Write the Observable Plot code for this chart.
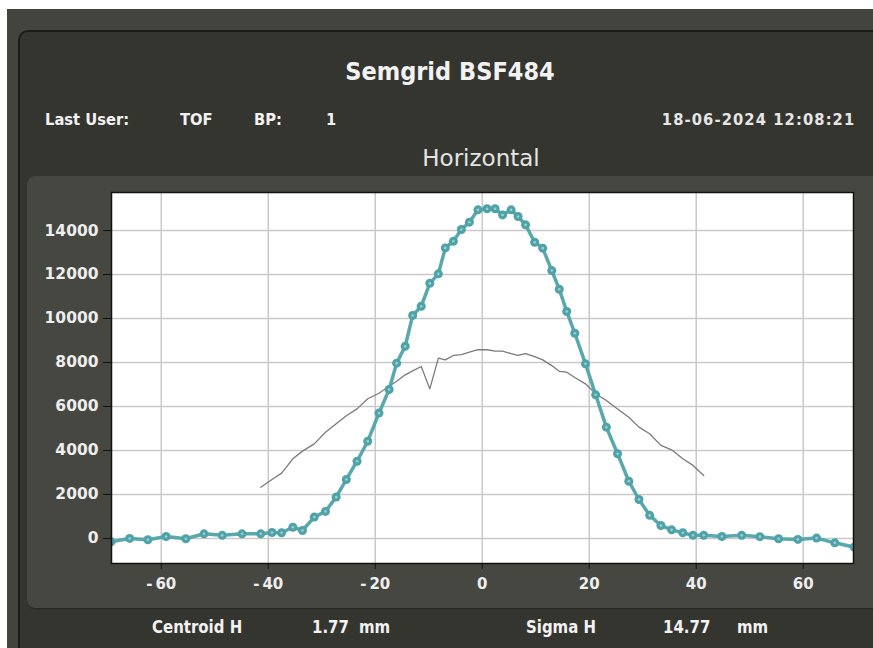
<!DOCTYPE html>
<html>
<head>
<meta charset="utf-8">
<script src="https://cdn.jsdelivr.net/npm/d3@7"></script>
<script src="https://cdn.jsdelivr.net/npm/@observablehq/plot@0.6"></script>
<style>
  html, body { margin: 0; padding: 0; background: #ffffff; width: 873px; height: 648px; overflow: hidden; }
  .outer { position: absolute; left: 7px; top: 9px; width: 866px; height: 639px; background: #43443e; }
  .panel { position: absolute; left: 18px; top: 30px; width: 870px; height: 640px; background: #353530;
           border: 2px solid #1b1b19; border-radius: 10px; box-sizing: border-box; }
  .chartpanel { position: absolute; left: 27px; top: 176px; width: 860px; height: 432px; background: #474742;
                border-radius: 8px; box-shadow: 0 1px 1px #262623; }
  .t { position: absolute; color: #f2f2f2; font-family: "DejaVu Sans", sans-serif;
       white-space: nowrap; line-height: 1; transform-origin: left center; }
  .b { font-weight: bold; }
  .h { font-size: 16px; top: 112px; transform: scaleX(0.92); }
  .f { font-size: 17px; top: 619px; transform: scaleX(0.88); }
  #chart { position: absolute; left: 27px; top: 176px; }
</style>
</head>
<body>
<div class="outer"></div>
<div class="panel"></div>
<div class="chartpanel"></div>

<div class="t b" style="left:0; width:900px; text-align:center; top:59px; font-size:25px; transform: scaleX(0.9); transform-origin: 450px 50%;">Semgrid BSF484</div>
<div class="t b h" style="left:45px;">Last User:</div>
<div class="t b h" style="left:180px;">TOF</div>
<div class="t b h" style="left:254px;">BP:</div>
<div class="t b h" style="left:326px;">1</div>
<div class="t b h" style="right:18px; letter-spacing:1.2px; color:#e6e6e6; transform-origin: right center;">18-06-2024 12:08:21</div>
<div class="t" style="left:0; width:962px; text-align:center; top:147px; font-size:23px; color:#e4e4e4;">Horizontal</div>

<div id="chart"></div>

<div class="t b f" style="left:152px;">Centroid H</div>
<div class="t b f" style="left:312px;">1.77</div>
<div class="t b f" style="left:359px;">mm</div>
<div class="t b f" style="left:526px;">Sigma H</div>
<div class="t b f" style="left:663px;">14.77</div>
<div class="t b f" style="left:737px;">mm</div>

<script>
// Teal profile (measured)
const profileX = [-69.4, -65.9, -62.5, -59.1, -55.4, -52.0, -48.6, -44.9, -41.4, -39.3, -37.5, -35.4, -33.6, -31.4, -29.3, -27.3, -25.4, -23.4, -21.4, -19.3, -17.4, -16.0, -14.4, -13.0, -11.4, -9.8, -8.2, -6.9, -5.4, -3.9, -2.4, -0.8, 0.9, 2.4, 3.8, 5.4, 6.7, 8.1, 9.8, 11.3, 13.0, 14.4, 15.8, 17.3, 19.3, 21.2, 23.2, 25.3, 27.4, 29.3, 31.3, 33.4, 35.4, 37.5, 39.4, 41.4, 44.8, 48.5, 51.9, 55.4, 59.0, 62.5, 65.9, 69.5];
const profileY = [-150, 0, -60, 90, -15, 210, 140, 210, 210, 270, 260, 510, 360, 970, 1230, 1880, 2680, 3510, 4420, 5700, 6770, 7970, 8740, 10140, 10560, 11600, 12030, 13210, 13510, 14050, 14380, 14940, 14990, 14990, 14710, 14940, 14640, 14260, 13470, 13200, 12180, 11330, 10320, 9330, 7940, 6530, 5060, 3850, 2600, 1770, 1050, 590, 390, 260, 140, 140, 90, 140, 80, -15, -45, 15, -200, -395];

// Grey reference profile
const refX = [-41.4, -39.3, -37.5, -35.4, -33.6, -31.4, -29.3, -27.3, -25.4, -23.4, -21.4, -19.3, -17.4, -16.0, -14.4, -13.0, -11.4, -9.8, -8.2, -6.9, -5.4, -3.9, -2.4, -0.8, 0.9, 2.4, 3.8, 5.4, 6.7, 8.1, 9.8, 11.3, 13.0, 14.4, 15.8, 17.3, 19.3, 21.2, 23.2, 25.3, 27.4, 29.3, 31.3, 33.4, 35.4, 37.5, 39.4, 41.4];
const refY = [2330, 2680, 2970, 3620, 3970, 4300, 4830, 5210, 5580, 5890, 6350, 6600, 6920, 7150, 7440, 7620, 7820, 6800, 8200, 8120, 8320, 8360, 8470, 8580, 8580, 8520, 8520, 8400, 8320, 8400, 8270, 8120, 7860, 7600, 7560, 7320, 7030, 6580, 6270, 5890, 5510, 5060, 4760, 4230, 4030, 3620, 3320, 2860];

const xTicks = [-60, -40, -20, 0, 20, 40, 60];
const yTicks = [0, 2000, 4000, 6000, 8000, 10000, 12000, 14000];

const profile = profileX.map((x, i) => ({x, y: profileY[i]}));
const ref = refX.map((x, i) => ({x, y: refY[i]}));

const teal = "#4fa3a8";

const chart = Plot.plot({
  width: 846,
  height: 432,
  marginLeft: 84,
  marginRight: 20,
  marginTop: 16,
  marginBottom: 45,
  style: {background: "transparent", overflow: "visible"},
  x: {domain: [-69.3, 69.4]},
  y: {domain: [-1140, 15730]},
  marks: [
    Plot.frame({fill: "white"}),
    Plot.gridX(xTicks, {stroke: "#c9c9c9", strokeOpacity: 1, strokeWidth: 1.5}),
    Plot.gridY(yTicks, {stroke: "#c9c9c9", strokeOpacity: 1, strokeWidth: 1.5}),
    Plot.line(ref, {x: "x", y: "y", stroke: "#7a7a7a", strokeWidth: 1.3, clip: true}),
    Plot.line(profile, {x: "x", y: "y", stroke: teal, strokeWidth: 3.5, strokeOpacity: 0.95, clip: true}),
    Plot.dot(profile, {x: "x", y: "y", r: 4.5, fill: teal, stroke: "none", clip: true}),
    Plot.dot(profile, {x: "x", y: "y", r: 1.3, fill: "#9fd0d2", stroke: "none", clip: true}),
    Plot.frame({stroke: "#111", strokeWidth: 1.5}),
    Plot.axisY(yTicks, {
      tickSize: 8, tickPadding: 5, stroke: "#111", fill: "#eeeeee",
      fontSize: 15.5, fontWeight: "bold", fontFamily: "DejaVu Sans, sans-serif",
      tickFormat: d => String(d), label: null
    }),
    Plot.axisX(xTicks, {
      tickSize: 6, tickPadding: 9, stroke: "#111", fill: "#eeeeee",
      fontSize: 15, fontWeight: "bold", fontFamily: "DejaVu Sans, sans-serif",
      tickFormat: d => d < 0 ? "-\u2009" + Math.abs(d) : String(d), label: null
    })
  ]
});
document.getElementById("chart").appendChild(chart);
</script>
</body>
</html>
